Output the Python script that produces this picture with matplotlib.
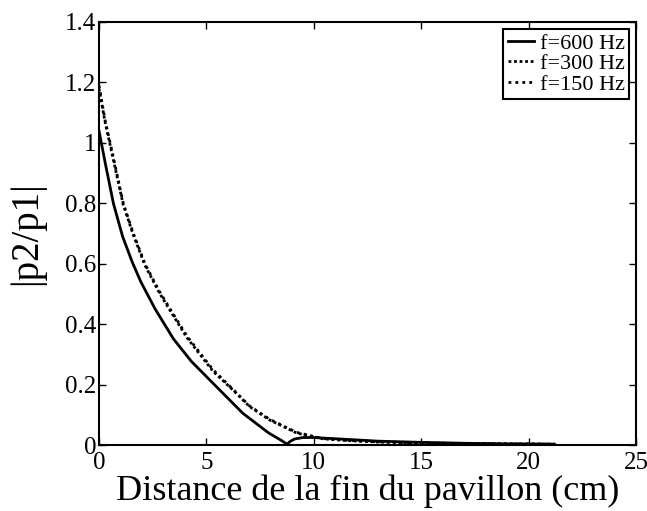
import matplotlib
matplotlib.use('Agg')
import matplotlib.pyplot as plt

# readings (distance in cm, |p2/p1|)
x_600 = [0, 0.3, 0.67, 1.1, 1.55, 1.95, 2.6, 3.46, 4.3, 5.47, 6.7, 7.9, 8.5, 8.75,
         8.9, 9.1, 9.5, 10.0, 11.0, 12.0, 13.0, 15.0, 17.0, 19.0, 21.2]
y_600 = [1.04, 0.93, 0.80, 0.69, 0.605, 0.54, 0.452, 0.352, 0.277, 0.193, 0.105, 0.04, 0.015, 0.003,
         0.012, 0.020, 0.025, 0.025, 0.021, 0.017, 0.013, 0.009, 0.006, 0.004, 0.003]

x_300 = [0, 0.28, 0.59, 1.13, 1.6, 2.14, 2.8, 3.4, 4.1, 5.3, 6.3, 7.0, 7.95, 9.2, 10.4,
         11.5, 13.0, 15.0, 17.0, 19.0, 21.2]
y_300 = [1.18, 1.07, 0.97, 0.795, 0.695, 0.595, 0.505, 0.435, 0.355, 0.245, 0.178, 0.128, 0.083, 0.04, 0.021,
         0.015, 0.010, 0.007, 0.005, 0.004, 0.003]

x_150 = [0, 0.28, 0.59, 1.13, 1.6, 2.14, 2.8, 3.4, 4.1, 5.3, 6.3, 7.0, 7.95, 9.2, 10.4,
         11.5, 13.0, 15.0, 17.0, 19.0, 21.2]
y_150 = [1.19, 1.076, 0.977, 0.80, 0.70, 0.60, 0.51, 0.44, 0.36, 0.25, 0.18, 0.13, 0.085, 0.042, 0.022,
         0.016, 0.011, 0.007, 0.005, 0.004, 0.003]

plt.rcParams['font.family'] = 'Liberation Serif'

fig = plt.figure(figsize=(6.47, 5.11), dpi=100)
ax = fig.add_axes([0.153, 0.129, 0.83, 0.828])

ax.plot(x_600, y_600, color='black', lw=2, label='f=600 Hz')
ax.plot(x_300, y_300, color='black', lw=2, ls=(0, (1, 1)), label='f=300 Hz')
ax.plot(x_150, y_150, color='black', lw=2, ls=(0, (1, 1.5)), label='f=150 Hz')

ax.set_xlim(0, 25)
ax.set_ylim(0, 1.4)
ax.set_xticks([0, 5, 10, 15, 20, 25])
ax.set_yticks([0, 0.2, 0.4, 0.6, 0.8, 1, 1.2, 1.4])
ax.set_yticklabels(['0', '0.2', '0.4', '0.6', '0.8', '1', '1.2', '1.4'])
ax.tick_params(direction='in', top=True, right=True, labelsize=18, length=5, width=1)
ax.tick_params(axis='x', pad=5)
ax.tick_params(axis='y', pad=2)
for s in ax.spines.values():
    s.set_linewidth(1.5)

ax.set_xlabel('Distance de la fin du pavillon (cm)', fontsize=26, labelpad=0)
ax.set_ylabel('|p2/p1|', fontsize=28, labelpad=14)

leg = ax.legend(loc='upper right', fontsize=16, frameon=True, fancybox=False,
                edgecolor='black', framealpha=1, handlelength=1.2, handletextpad=0.25,
                borderpad=0.2, labelspacing=0.0, borderaxespad=0.3)
leg.get_frame().set_linewidth(1.5)

fig.savefig('out.png', dpi=100)
